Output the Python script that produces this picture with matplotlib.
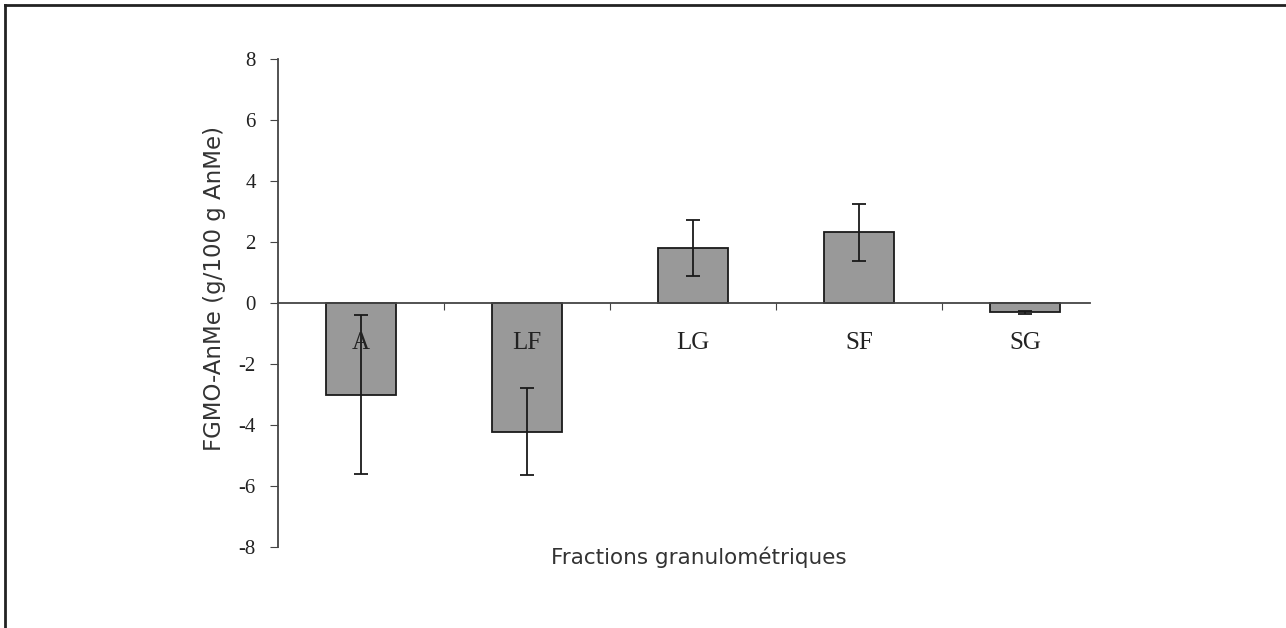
import numpy as np
import matplotlib.pyplot as plt
from matplotlib.lines import Line2D

# Donnees
fractions = ['A', 'LF', 'LG', 'SF', 'SG']
moyennes = [-3.0, -4.22, 1.8, 2.32, -0.3]
erreurs = [2.6, 1.43, 0.92, 0.93, 0.05]
yticks = [-8, -6, -4, -2, 0, 2, 4, 6, 8]

fig = plt.figure(figsize=(12.86, 6.28), dpi=100)
ax = fig.add_axes([0.2162, 0.129, 0.6314, 0.777])

x = np.arange(len(fractions))
ax.bar(x, moyennes, width=0.42, color='#999999', edgecolor='#1a1a1a', linewidth=1.3,
       yerr=erreurs, capsize=5, error_kw=dict(ecolor='#1a1a1a', elinewidth=1.3, capthick=1.3))

ax.set_xlim(-0.5, 4.39)
ax.set_ylim(-8, 8)
ax.set_yticks(yticks)
ax.set_yticklabels([str(t) for t in yticks], family='Liberation Serif', fontsize=15, color='#222222')

# axe x au niveau de zero
ax.spines['top'].set_visible(False)
ax.spines['right'].set_visible(False)
ax.spines['bottom'].set_position(('data', 0))
ax.spines['left'].set_color('#444444')
ax.spines['bottom'].set_color('#444444')
ax.spines['left'].set_linewidth(1.3)
ax.spines['bottom'].set_linewidth(1.3)
ax.set_xticks([0.5, 1.5, 2.5, 3.5])
ax.set_xticklabels([])
ax.tick_params(axis='x', direction='out', length=5, color='#444444')
ax.tick_params(axis='y', direction='out', length=6, color='#444444', pad=10)

for xi, nom in zip(x, fractions):
    ax.text(xi, -1.3, nom, ha='center', va='center', family='Liberation Serif', fontsize=18, color='#222222')

fig.text(215 / 1286, 1 - 289 / 628, 'FGMO-AnMe (g/100 g AnMe)', rotation=90, ha='center', va='center',
         family='DejaVu Sans', fontsize=16.5, color='#333333')
fig.text(699 / 1286, 1 - 557 / 628, 'Fractions granulométriques', ha='center', va='center',
         family='DejaVu Sans', fontsize=15.5, color='#333333')

# cadre de la figure (haut et gauche)
fig.add_artist(Line2D([0.004, 1.0], [0.992, 0.992], transform=fig.transFigure, color='#222222', lw=2))
fig.add_artist(Line2D([0.004, 0.004], [0.0, 0.992], transform=fig.transFigure, color='#222222', lw=2))

fig.savefig('out.png', dpi=100)
